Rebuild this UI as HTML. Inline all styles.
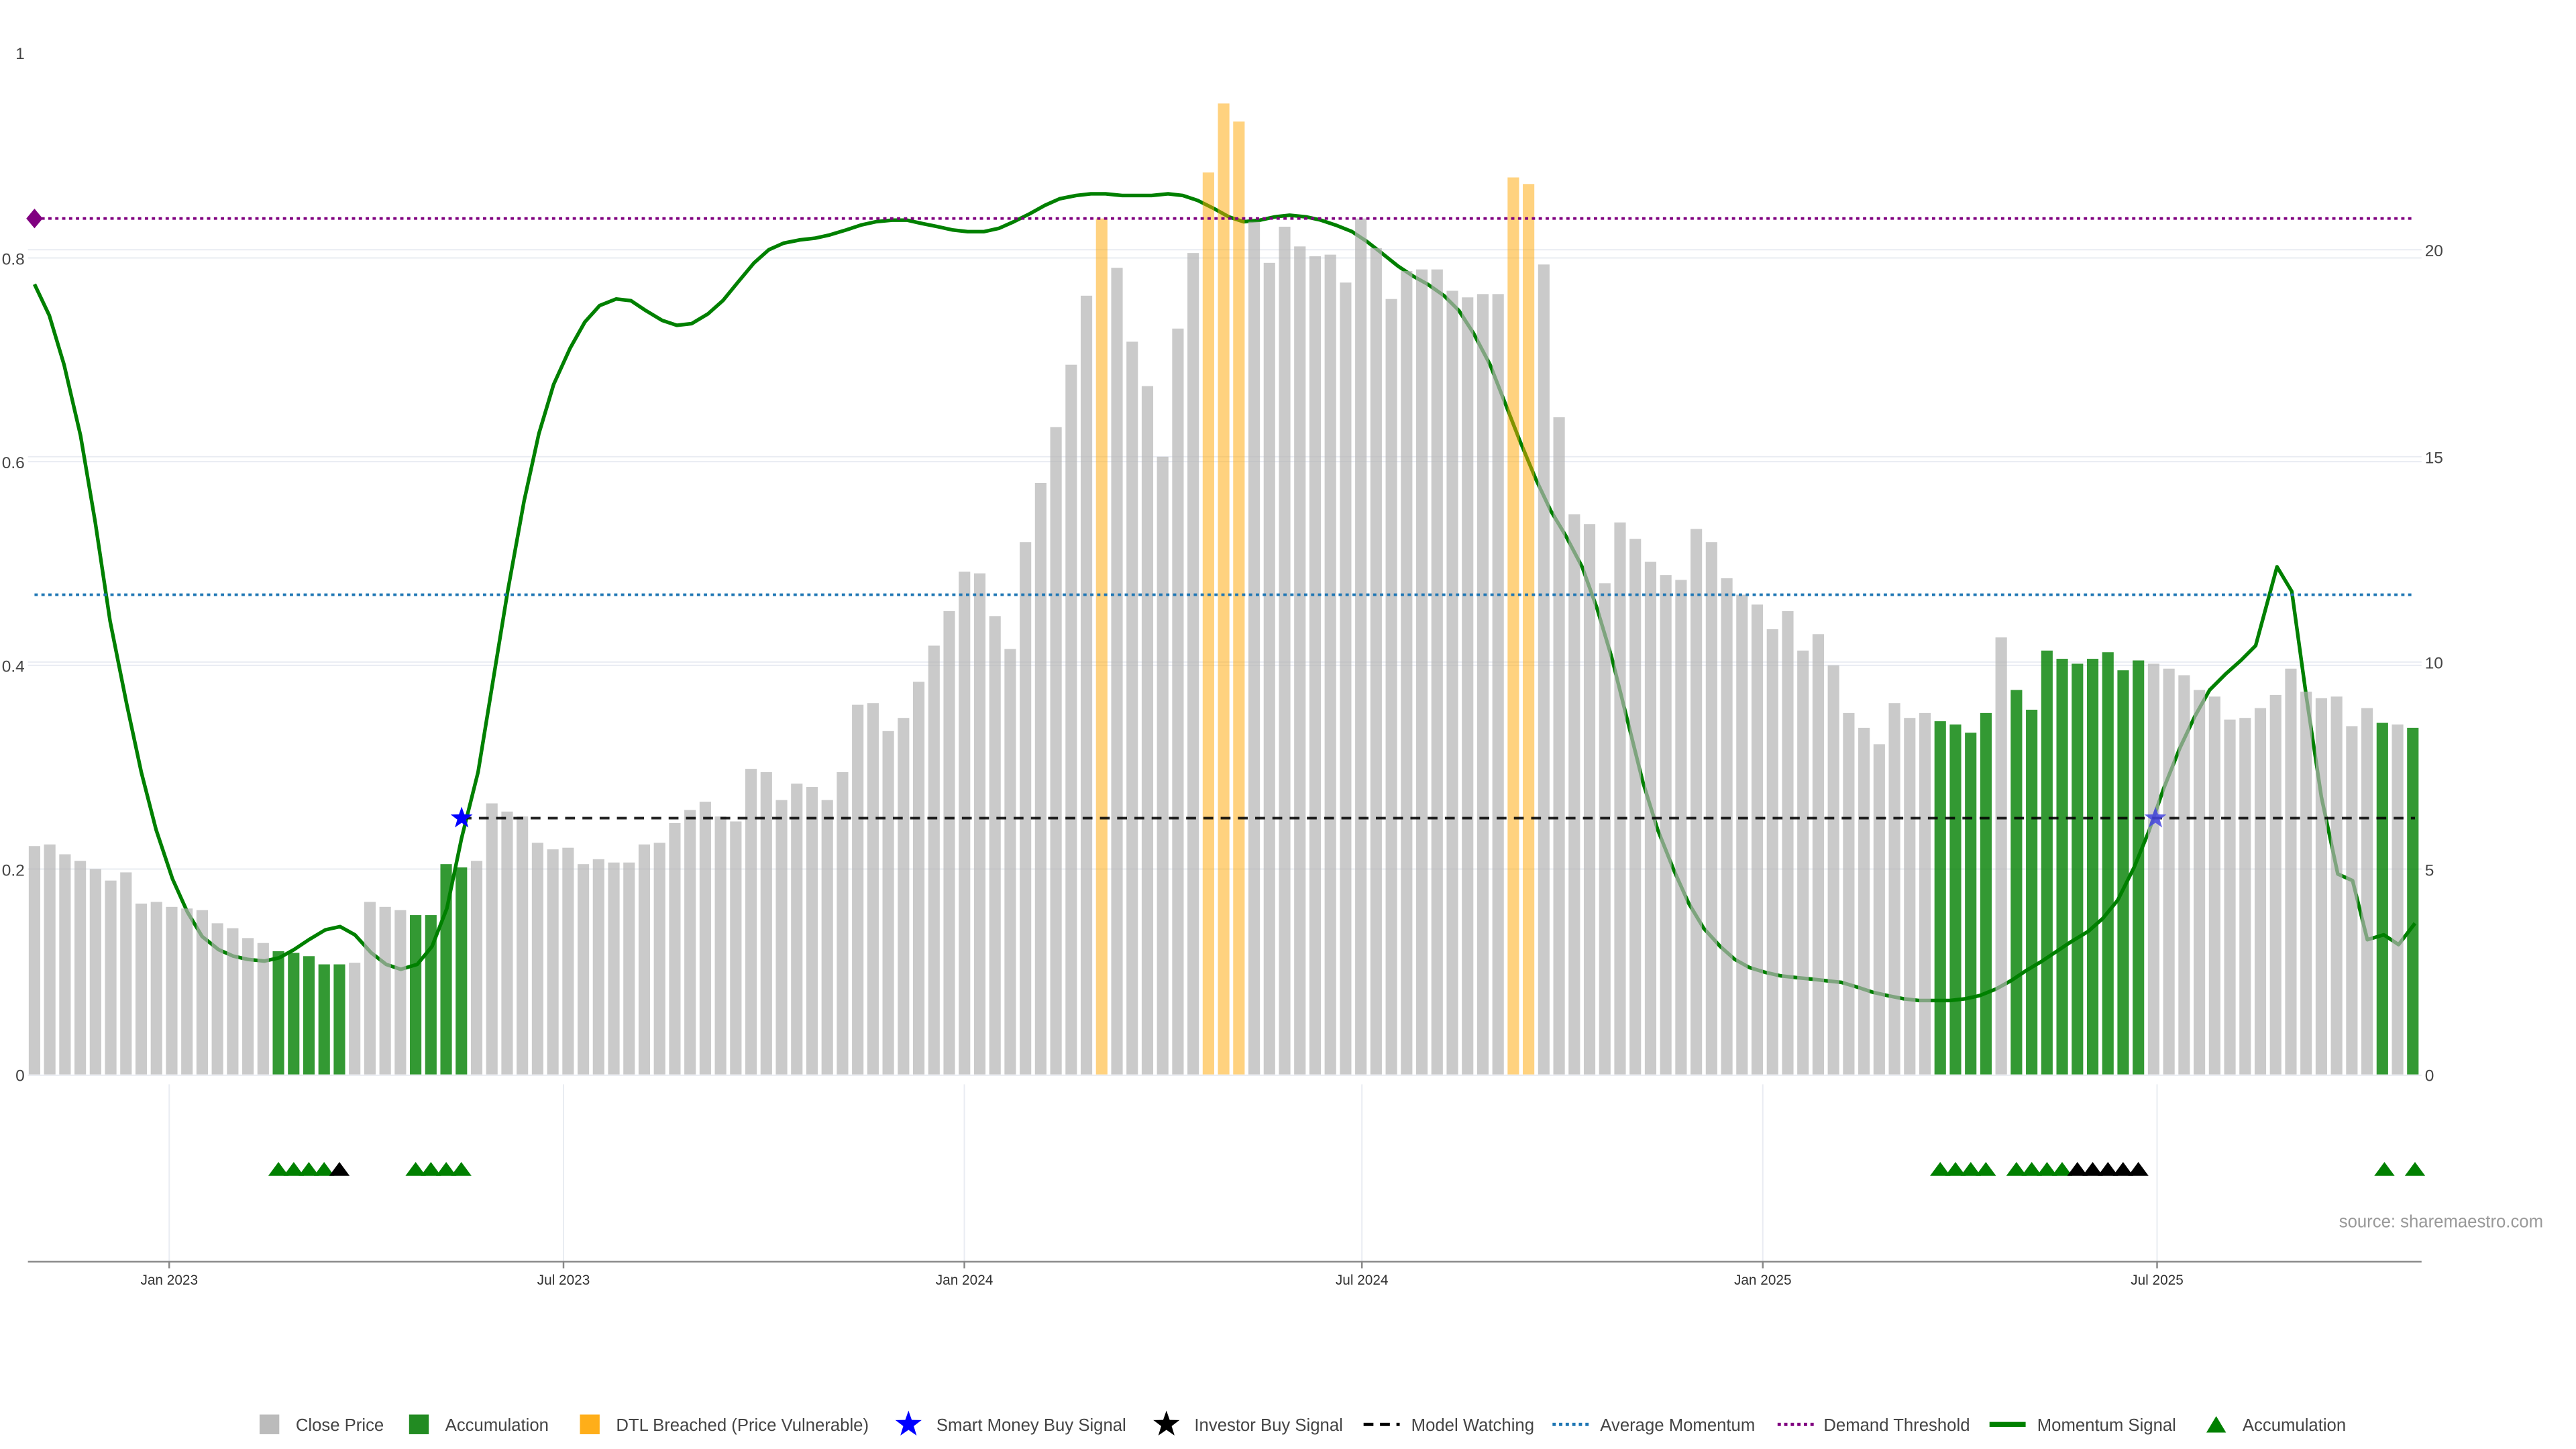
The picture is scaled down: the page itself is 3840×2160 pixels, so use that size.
<!DOCTYPE html>
<html><head><meta charset="utf-8"><style>
html,body{margin:0;padding:0;background:#fff;}
svg{display:block;}
text{font-family:"Liberation Sans","DejaVu Sans",sans-serif;}
.g{fill:rgba(180,180,180,0.7);}
.a{fill:rgba(0,128,0,0.8);}
.o{fill:rgba(255,165,0,0.5);}
</style></head><body>
<svg width="3840" height="2160" viewBox="0 0 1568 882" preserveAspectRatio="none" xmlns="http://www.w3.org/2000/svg">
<defs>
<polygon id="star" points="0,-7 1.65,-2.27 6.66,-2.16 2.66,0.87 4.11,5.66 0,2.8 -4.11,5.66 -2.66,0.87 -6.66,-2.16 -1.65,-2.27"/>
<polygon id="tri" points="-6.2,4.2 0,-4.2 6.2,4.2"/>
</defs>
<rect width="1568" height="882" fill="#fff"/>
<g stroke="#e9ecf2" stroke-width="0.8">
<line x1="17" x2="1474" y1="157" y2="157"/><line x1="17" x2="1474" y1="281" y2="281"/>
<line x1="17" x2="1474" y1="405" y2="405"/><line x1="17" x2="1474" y1="529" y2="529"/>
<line x1="17" x2="1474" y1="152" y2="152"/><line x1="17" x2="1474" y1="278" y2="278"/>
<line x1="17" x2="1474" y1="403" y2="403"/><line x1="17" x2="1474" y1="654.5" y2="654.5"/>
<line x1="103" x2="103" y1="660" y2="768"/><line x1="343" x2="343" y1="660" y2="768"/>
<line x1="587" x2="587" y1="660" y2="768"/><line x1="829" x2="829" y1="660" y2="768"/>
<line x1="1073" x2="1073" y1="660" y2="768"/><line x1="1313" x2="1313" y1="660" y2="768"/>
</g>
<g font-size="10" fill="#444" text-anchor="end">
<text x="15" y="36">1</text><text x="15" y="161">0.8</text><text x="15" y="285">0.6</text>
<text x="15" y="409">0.4</text><text x="15" y="533">0.2</text><text x="15" y="658">0</text>
</g>
<g font-size="10" fill="#444">
<text x="1476" y="156">20</text><text x="1476" y="282">15</text><text x="1476" y="407">10</text>
<text x="1476" y="533">5</text><text x="1476" y="658">0</text>
</g>
<polyline fill="none" stroke="#008000" stroke-width="2.2" stroke-linejoin="round" points="21,173 30,192 39,222 49,265 58,318 67,378 77,428 86,470 95,505 105,535 114,555 123,570 133,578 142,582 151,584 161,585 170,583 179,578 188,572 198,566 207,564 216,569 226,580 235,587 244,590 254,587 263,576 272,553 281,510 291,470 300,415 309,360 319,305 328,264 337,234 347,212 356,196 365,186 375,182 384,183 393,189 403,195 412,198 421,197 431,191 440,183 449,172 459,160 468,152 477,148 487,146 496,145 505,143 515,140 524,137 533,135 543,134 552,134 561,136 571,138 580,140 589,141 599,141 608,139 617,135 627,130 636,125 645,121 655,119 664,118 673,118 683,119 692,119 701,119 711,118 720,119 729,122 739,127 748,132 757,135 767,134 776,132 785,131 795,132 804,134 813,137 823,141 832,147 841,154 851,162 860,168 869,173 879,180 888,189 897,203 907,222 916,245 925,268 935,292 944,311 953,326 963,345 972,370 981,400 991,440 1000,476 1009,505 1019,530 1028,550 1037,565 1047,576 1056,584 1065,589 1075,592 1084,594 1093,595 1103,596 1112,597 1121,598 1131,601 1140,604 1149,606 1159,608 1168,609 1177,609 1187,609 1196,608 1205,606 1215,602 1224,597 1233,591 1243,585 1252,579 1261,573 1271,567 1280,559 1289,548 1299,528 1308,506 1317,480 1327,455 1336,436 1345,420 1355,410 1364,402 1373,393 1386,345 1395,360 1404,425 1413,485 1423,532 1432,536 1441,572 1451,569 1460,575 1470,562"/>
<!-- bars -->
<g>
<rect class="g" x="17.5" y="515" width="7" height="139"/>
<rect class="g" x="26.78" y="514" width="7" height="140"/>
<rect class="g" x="36.06" y="520" width="7" height="134"/>
<rect class="g" x="45.34" y="524" width="7" height="130"/>
<rect class="g" x="54.62" y="529" width="7" height="125"/>
<rect class="g" x="63.9" y="536" width="7" height="118"/>
<rect class="g" x="73.18" y="531" width="7" height="123"/>
<rect class="g" x="82.46" y="550" width="7" height="104"/>
<rect class="g" x="91.74" y="549" width="7" height="105"/>
<rect class="g" x="101.02" y="552" width="7" height="102"/>
</g>
<g transform="translate(92.8 0)">
<rect class="g" x="17.5" y="553" width="7" height="101"/>
<rect class="g" x="26.78" y="554" width="7" height="100"/>
<rect class="g" x="36.06" y="562" width="7" height="92"/>
<rect class="g" x="45.34" y="565" width="7" height="89"/>
<rect class="g" x="54.62" y="571" width="7" height="83"/>
<rect class="g" x="63.9" y="574" width="7" height="80"/>
<rect class="a" x="73.18" y="579" width="7" height="75"/>
<rect class="a" x="82.46" y="580" width="7" height="74"/>
<rect class="a" x="91.74" y="582" width="7" height="72"/>
<rect class="a" x="101.02" y="587" width="7" height="67"/>
</g>
<g transform="translate(185.6 0)">
<rect class="a" x="17.5" y="587" width="7" height="67"/>
<rect class="g" x="26.78" y="586" width="7" height="68"/>
<rect class="g" x="36.06" y="549" width="7" height="105"/>
<rect class="g" x="45.34" y="552" width="7" height="102"/>
<rect class="g" x="54.62" y="554" width="7" height="100"/>
<rect class="a" x="63.9" y="557" width="7" height="97"/>
<rect class="a" x="73.18" y="557" width="7" height="97"/>
<rect class="a" x="82.46" y="526" width="7" height="128"/>
<rect class="a" x="91.74" y="528" width="7" height="126"/>
<rect class="g" x="101.02" y="524" width="7" height="130"/>
</g>
<g transform="translate(278.4 0)">
<rect class="g" x="17.5" y="489" width="7" height="165"/>
<rect class="g" x="26.78" y="494" width="7" height="160"/>
<rect class="g" x="36.06" y="497" width="7" height="157"/>
<rect class="g" x="45.34" y="513" width="7" height="141"/>
<rect class="g" x="54.62" y="517" width="7" height="137"/>
<rect class="g" x="63.9" y="516" width="7" height="138"/>
<rect class="g" x="73.18" y="526" width="7" height="128"/>
<rect class="g" x="82.46" y="523" width="7" height="131"/>
<rect class="g" x="91.74" y="525" width="7" height="129"/>
<rect class="g" x="101.02" y="525" width="7" height="129"/>
</g>
<g transform="translate(371.2 0)">
<rect class="g" x="17.5" y="514" width="7" height="140"/>
<rect class="g" x="26.78" y="513" width="7" height="141"/>
<rect class="g" x="36.06" y="501" width="7" height="153"/>
<rect class="g" x="45.34" y="493" width="7" height="161"/>
<rect class="g" x="54.62" y="488" width="7" height="166"/>
<rect class="g" x="63.9" y="497" width="7" height="157"/>
<rect class="g" x="73.18" y="500" width="7" height="154"/>
<rect class="g" x="82.46" y="468" width="7" height="186"/>
<rect class="g" x="91.74" y="470" width="7" height="184"/>
<rect class="g" x="101.02" y="487" width="7" height="167"/>
</g>
<g transform="translate(464 0)">
<rect class="g" x="17.5" y="477" width="7" height="177"/>
<rect class="g" x="26.78" y="479" width="7" height="175"/>
<rect class="g" x="36.06" y="487" width="7" height="167"/>
<rect class="g" x="45.34" y="470" width="7" height="184"/>
<rect class="g" x="54.62" y="429" width="7" height="225"/>
<rect class="g" x="63.9" y="428" width="7" height="226"/>
<rect class="g" x="73.18" y="445" width="7" height="209"/>
<rect class="g" x="82.46" y="437" width="7" height="217"/>
<rect class="g" x="91.74" y="415" width="7" height="239"/>
<rect class="g" x="101.02" y="393" width="7" height="261"/>
</g>
<g transform="translate(556.8 0)">
<rect class="g" x="17.5" y="372" width="7" height="282"/>
<rect class="g" x="26.78" y="348" width="7" height="306"/>
<rect class="g" x="36.06" y="349" width="7" height="305"/>
<rect class="g" x="45.34" y="375" width="7" height="279"/>
<rect class="g" x="54.62" y="395" width="7" height="259"/>
<rect class="g" x="63.9" y="330" width="7" height="324"/>
<rect class="g" x="73.18" y="294" width="7" height="360"/>
<rect class="g" x="82.46" y="260" width="7" height="394"/>
<rect class="g" x="91.74" y="222" width="7" height="432"/>
<rect class="g" x="101.02" y="180" width="7" height="474"/>
</g>
<g transform="translate(649.6 0)">
<rect class="o" x="17.5" y="133" width="7" height="521"/>
<rect class="g" x="26.78" y="163" width="7" height="491"/>
<rect class="g" x="36.06" y="208" width="7" height="446"/>
<rect class="g" x="45.34" y="235" width="7" height="419"/>
<rect class="g" x="54.62" y="278" width="7" height="376"/>
<rect class="g" x="63.9" y="200" width="7" height="454"/>
<rect class="g" x="73.18" y="154" width="7" height="500"/>
<rect class="o" x="82.46" y="105" width="7" height="549"/>
<rect class="o" x="91.74" y="63" width="7" height="591"/>
<rect class="o" x="101.02" y="74" width="7" height="580"/>
</g>
<g transform="translate(742.4 0)">
<rect class="g" x="17.5" y="135" width="7" height="519"/>
<rect class="g" x="26.78" y="160" width="7" height="494"/>
<rect class="g" x="36.06" y="138" width="7" height="516"/>
<rect class="g" x="45.34" y="150" width="7" height="504"/>
<rect class="g" x="54.62" y="156" width="7" height="498"/>
<rect class="g" x="63.9" y="155" width="7" height="499"/>
<rect class="g" x="73.18" y="172" width="7" height="482"/>
<rect class="g" x="82.46" y="133" width="7" height="521"/>
<rect class="g" x="91.74" y="151" width="7" height="503"/>
<rect class="g" x="101.02" y="182" width="7" height="472"/>
</g>
<g transform="translate(835.2 0)">
<rect class="g" x="17.5" y="165" width="7" height="489"/>
<rect class="g" x="26.78" y="164" width="7" height="490"/>
<rect class="g" x="36.06" y="164" width="7" height="490"/>
<rect class="g" x="45.34" y="177" width="7" height="477"/>
<rect class="g" x="54.62" y="181" width="7" height="473"/>
<rect class="g" x="63.9" y="179" width="7" height="475"/>
<rect class="g" x="73.18" y="179" width="7" height="475"/>
<rect class="o" x="82.46" y="108" width="7" height="546"/>
<rect class="o" x="91.74" y="112" width="7" height="542"/>
<rect class="g" x="101.02" y="161" width="7" height="493"/>
</g>
<g transform="translate(928 0)">
<rect class="g" x="17.5" y="254" width="7" height="400"/>
<rect class="g" x="26.78" y="313" width="7" height="341"/>
<rect class="g" x="36.06" y="319" width="7" height="335"/>
<rect class="g" x="45.34" y="355" width="7" height="299"/>
<rect class="g" x="54.62" y="318" width="7" height="336"/>
<rect class="g" x="63.9" y="328" width="7" height="326"/>
<rect class="g" x="73.18" y="342" width="7" height="312"/>
<rect class="g" x="82.46" y="350" width="7" height="304"/>
<rect class="g" x="91.74" y="353" width="7" height="301"/>
<rect class="g" x="101.02" y="322" width="7" height="332"/>
</g>
<g transform="translate(1020.8 0)">
<rect class="g" x="17.5" y="330" width="7" height="324"/>
<rect class="g" x="26.78" y="352" width="7" height="302"/>
<rect class="g" x="36.06" y="362" width="7" height="292"/>
<rect class="g" x="45.34" y="368" width="7" height="286"/>
<rect class="g" x="54.62" y="383" width="7" height="271"/>
<rect class="g" x="63.9" y="372" width="7" height="282"/>
<rect class="g" x="73.18" y="396" width="7" height="258"/>
<rect class="g" x="82.46" y="386" width="7" height="268"/>
<rect class="g" x="91.74" y="405" width="7" height="249"/>
<rect class="g" x="101.02" y="434" width="7" height="220"/>
</g>
<g transform="translate(1113.6 0)">
<rect class="g" x="17.5" y="443" width="7" height="211"/>
<rect class="g" x="26.78" y="453" width="7" height="201"/>
<rect class="g" x="36.06" y="428" width="7" height="226"/>
<rect class="g" x="45.34" y="437" width="7" height="217"/>
<rect class="g" x="54.62" y="434" width="7" height="220"/>
<rect class="a" x="63.9" y="439" width="7" height="215"/>
<rect class="a" x="73.18" y="441" width="7" height="213"/>
<rect class="a" x="82.46" y="446" width="7" height="208"/>
<rect class="a" x="91.74" y="434" width="7" height="220"/>
<rect class="g" x="101.02" y="388" width="7" height="266"/>
</g>
<g transform="translate(1206.4 0)">
<rect class="a" x="17.5" y="420" width="7" height="234"/>
<rect class="a" x="26.78" y="432" width="7" height="222"/>
<rect class="a" x="36.06" y="396" width="7" height="258"/>
<rect class="a" x="45.34" y="401" width="7" height="253"/>
<rect class="a" x="54.62" y="404" width="7" height="250"/>
<rect class="a" x="63.9" y="401" width="7" height="253"/>
<rect class="a" x="73.18" y="397" width="7" height="257"/>
<rect class="a" x="82.46" y="408" width="7" height="246"/>
<rect class="a" x="91.74" y="402" width="7" height="252"/>
<rect class="g" x="101.02" y="404" width="7" height="250"/>
</g>
<g transform="translate(1299.2 0)">
<rect class="g" x="17.5" y="407" width="7" height="247"/>
<rect class="g" x="26.78" y="411" width="7" height="243"/>
<rect class="g" x="36.06" y="420" width="7" height="234"/>
<rect class="g" x="45.34" y="424" width="7" height="230"/>
<rect class="g" x="54.62" y="438" width="7" height="216"/>
<rect class="g" x="63.9" y="437" width="7" height="217"/>
<rect class="g" x="73.18" y="431" width="7" height="223"/>
<rect class="g" x="82.46" y="423" width="7" height="231"/>
<rect class="g" x="91.74" y="407" width="7" height="247"/>
<rect class="g" x="101.02" y="421" width="7" height="233"/>
</g>
<g transform="translate(1392 0)">
<rect class="g" x="17.5" y="425" width="7" height="229"/>
<rect class="g" x="26.78" y="424" width="7" height="230"/>
<rect class="g" x="36.06" y="442" width="7" height="212"/>
<rect class="g" x="45.34" y="431" width="7" height="223"/>
<rect class="a" x="54.62" y="440" width="7" height="214"/>
<rect class="g" x="63.9" y="441" width="7" height="213"/>
<rect class="a" x="73.18" y="443" width="7" height="211"/>
</g>
<line x1="21" x2="1470" y1="133" y2="133" stroke="#800080" stroke-width="1.6" stroke-dasharray="2,2.2"/>
<line x1="21" x2="1470" y1="362" y2="362" stroke="#1f77b4" stroke-width="1.6" stroke-dasharray="2,2.2"/>
<line x1="281" x2="1470" y1="498" y2="498" stroke="#000" stroke-width="1.6" stroke-dasharray="6,4.5" opacity="0.85"/>
<polygon points="21,127 26,133 21,139 16,133" fill="#800080"/>
<use href="#star" x="281" y="498" fill="#0000ff"/>
<use href="#star" x="1312" y="498" fill="#4545e0" opacity="0.85"/>
<g fill="#008000">
<use href="#tri" x="169.5" y="711.5"/><use href="#tri" x="178.8" y="711.5"/><use href="#tri" x="188.0" y="711.5"/><use href="#tri" x="197.3" y="711.5"/>
<use href="#tri" x="253.0" y="711.5"/><use href="#tri" x="262.3" y="711.5"/><use href="#tri" x="271.6" y="711.5"/><use href="#tri" x="280.8" y="711.5"/>
<use href="#tri" x="1181" y="711.5"/><use href="#tri" x="1190.3" y="711.5"/><use href="#tri" x="1199.6" y="711.5"/><use href="#tri" x="1208.8" y="711.5"/>
<use href="#tri" x="1227.4" y="711.5"/><use href="#tri" x="1236.7" y="711.5"/><use href="#tri" x="1246" y="711.5"/><use href="#tri" x="1255.2" y="711.5"/>
<use href="#tri" x="1451.4" y="711.5"/><use href="#tri" x="1470" y="711.5"/>
</g>
<g fill="#000">
<use href="#tri" x="206.6" y="711.5"/>
<use href="#tri" x="1264.5" y="711.5"/><use href="#tri" x="1273.8" y="711.5"/><use href="#tri" x="1283.1" y="711.5"/><use href="#tri" x="1292.3" y="711.5"/><use href="#tri" x="1301.6" y="711.5"/>
</g>
<line x1="17" x2="1474" y1="768" y2="768" stroke="#888" stroke-width="1"/>
<g stroke="#888" stroke-width="1">
<line x1="103" x2="103" y1="768" y2="772"/><line x1="343" x2="343" y1="768" y2="772"/>
<line x1="587" x2="587" y1="768" y2="772"/><line x1="829" x2="829" y1="768" y2="772"/>
<line x1="1073" x2="1073" y1="768" y2="772"/><line x1="1313" x2="1313" y1="768" y2="772"/>
</g>
<g font-size="8.5" fill="#333" text-anchor="middle">
<text x="103" y="782">Jan 2023</text><text x="343" y="782">Jul 2023</text>
<text x="587" y="782">Jan 2024</text><text x="829" y="782">Jul 2024</text>
<text x="1073" y="782">Jan 2025</text><text x="1313" y="782">Jul 2025</text>
</g>
<text x="1548" y="747" font-size="10.5" fill="#999" text-anchor="end">source: sharemaestro.com</text>
<g font-size="10.5" fill="#444">
<rect x="158" y="861" width="12" height="12" fill="rgba(180,180,180,0.9)"/><text x="180" y="871">Close Price</text>
<rect x="249" y="861" width="12" height="12" fill="#228b22"/><text x="271" y="871">Accumulation</text>
<rect x="353" y="861" width="12" height="12" fill="#ffa500" opacity="0.9"/><text x="375" y="871">DTL Breached (Price Vulnerable)</text>
<polygon transform="translate(553 867) scale(1.2)" points="0,-7 1.65,-2.27 6.66,-2.16 2.66,0.87 4.11,5.66 0,2.8 -4.11,5.66 -2.66,0.87 -6.66,-2.16 -1.65,-2.27" fill="#0000ff"/><text x="570" y="871">Smart Money Buy Signal</text>
<polygon transform="translate(710 867) scale(1.2)" points="0,-7 1.65,-2.27 6.66,-2.16 2.66,0.87 4.11,5.66 0,2.8 -4.11,5.66 -2.66,0.87 -6.66,-2.16 -1.65,-2.27" fill="#000"/><text x="727" y="871">Investor Buy Signal</text>
<line x1="830" x2="852" y1="867" y2="867" stroke="#000" stroke-width="2" stroke-dasharray="6,4"/><text x="859" y="871">Model Watching</text>
<line x1="945" x2="967" y1="867" y2="867" stroke="#1f77b4" stroke-width="2" stroke-dasharray="2,2"/><text x="974" y="871">Average Momentum</text>
<line x1="1082" x2="1104" y1="867" y2="867" stroke="#800080" stroke-width="2" stroke-dasharray="2,2"/><text x="1110" y="871">Demand Threshold</text>
<line x1="1211" x2="1233" y1="867" y2="867" stroke="#008000" stroke-width="3"/><text x="1240" y="871">Momentum Signal</text>
<polygon points="1343,872 1349,862 1355,872" fill="#008000"/><text x="1365" y="871">Accumulation</text>
</g>
</svg>
</body></html>
